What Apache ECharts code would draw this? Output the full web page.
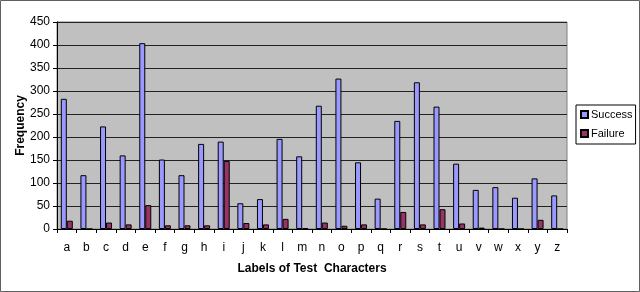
<!DOCTYPE html>
<html><head><meta charset="utf-8">
<script src="https://cdn.jsdelivr.net/npm/echarts@6/dist/echarts.min.js"></script>
<style>html,body{margin:0;padding:0;background:#fff}#c{width:640px;height:292px}</style>
</head><body><div id="c"></div>
<script>
const categories = ['a','b','c','d','e','f','g','h','i','j','k','l','m','n','o','p','q','r','s','t','u','v','w','x','y','z'];
const success = [283,117,223,160,404,151,117,185,190,56,65,196,158,268,327,145,66,235,319,266,142,85,91,68,110,73];
const failure = [18,0,14,10,52,8,8,8,148,13,10,22,2,14,7,10,0,37,10,43,12,3,0,0,20,0];
const yTicks = {min:0, max:450, interval:50};

const chart = echarts.init(document.getElementById('c'), null, {renderer:'canvas'});
const font = 'Liberation Sans, Arial, sans-serif';
chart.setOption({
  animation:false,
  backgroundColor:'#fff',
  textStyle:{fontFamily:font},
  graphic:[
    {type:'rect', shape:{x:0.5,y:0.5,width:639,height:291}, style:{fill:'none',stroke:'#606060',lineWidth:1}, z:100},
    {type:'rect', shape:{x:57,y:22,width:510,height:207}, style:{fill:'#c0c0c0',stroke:'#808080',lineWidth:1}, z:-1}
  ],
  grid:{left:57,right:73,top:22,bottom:63,show:false},
  legend:{
    left:576, top:105, orient:'vertical', itemWidth:7, itemHeight:7, itemGap:8,
    padding:[4,3,5,4], borderColor:'#000', borderWidth:1, backgroundColor:'#fff',
    textStyle:{fontFamily:font,fontSize:11,color:'#000',padding:[0,0,0,-2]},
    data:[{name:'Success',icon:'rect'},{name:'Failure',icon:'rect'}]
  },
  xAxis:{
    type:'category', data:categories,
    name:'Labels of Test  Characters', nameLocation:'middle', nameGap:34, nameMoveOverlap:false,
    nameTextStyle:{fontWeight:'bold',fontSize:12,color:'#000',fontFamily:font},
    axisLine:{lineStyle:{color:'#000'}},
    axisTick:{show:true,length:4,lineStyle:{color:'#000'}},
    axisLabel:{color:'#000',fontSize:12,margin:13,fontFamily:font}
  },
  yAxis:{
    type:'value', min:yTicks.min, max:yTicks.max, interval:yTicks.interval,
    name:'Frequency', nameLocation:'middle', nameGap:30, nameRotate:90, nameMoveOverlap:false,
    nameTextStyle:{fontWeight:'bold',fontSize:12,color:'#000',fontFamily:font},
    axisLine:{show:true,lineStyle:{color:'#000'}},
    axisTick:{show:true,length:4,lineStyle:{color:'#000'}},
    axisLabel:{color:'#000',fontSize:12,margin:7,fontFamily:font},
    splitLine:{show:true,lineStyle:{color:'#222',width:1}}
  },
  series:[
    {name:'Success',type:'bar',data:success,barWidth:6,barGap:'0%',
      itemStyle:{color:'#9999ff',borderColor:'#000',borderWidth:1}},
    {name:'Failure',type:'bar',data:failure,barWidth:6,barGap:'0%',
      itemStyle:{color:'#993366',borderColor:'#000',borderWidth:1}}
  ]
});
</script></body></html>
